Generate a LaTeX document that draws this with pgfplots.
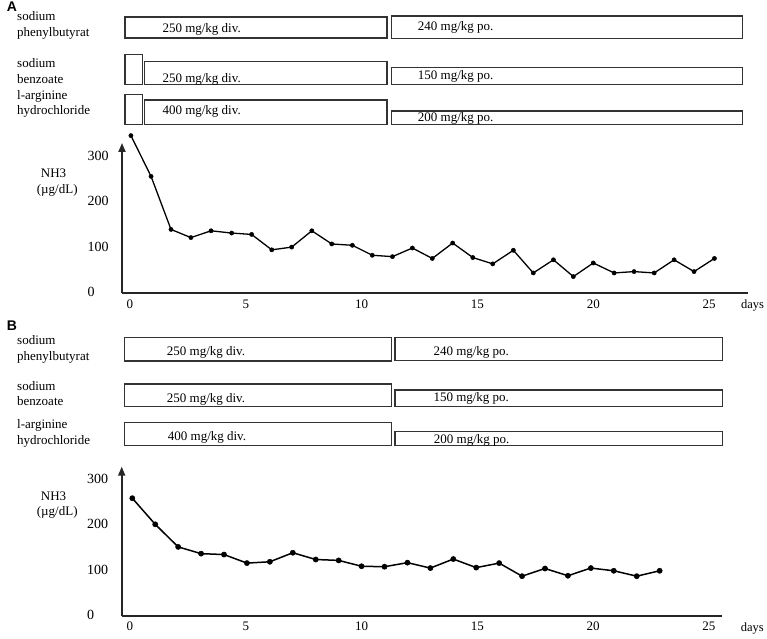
\documentclass[border=0pt]{standalone}
\usepackage{fontspec}
\setmainfont{Liberation Serif}
\newfontfamily\labfont{Liberation Sans}
\usepackage{pgfplots}
\pgfplotsset{compat=1.18}
\usetikzlibrary{arrows.meta}
\pgfplotsset{nh3/.style={
  scale only axis, axis lines=left,
  axis line style={line width=1.7bp, black!85},
  every outer x axis line/.append style={-},
  every outer y axis line/.append style={-{Triangle[length=9bp,width=7bp]}},
  xtick={0,5,10,15,20,25}, ytick={0,100,200,300},
  major tick length=0pt, tick style={draw=none},
  /pgf/number format/assume math mode=true,
  xticklabel style={font=\fontsize{13bp}{15bp}\selectfont, yshift=-3bp},
  yticklabel style={font=\fontsize{14bp}{16bp}\selectfont, anchor=west, xshift=-38bp},
  clip=false}}
\begin{document}
\begin{tikzpicture}[x=1bp,y=1bp,
  box/.style={draw=black!80, line width=1.2bp},
  lab/.style={anchor=base west, inner sep=0pt, font=\fontsize{13bp}{15bp}\selectfont},
  pan/.style={anchor=center, inner sep=0pt, font=\labfont\bfseries\fontsize{14bp}{16bp}\selectfont}]
\useasboundingbox (0,0) rectangle (767,639);

% ---------------- Panel A ----------------
\node[pan] at (12,639-7) {A};
\node[lab] at (17,639-20.7) {sodium};
\node[lab] at (17,639-36.8) {phenylbutyrat};
\node[lab] at (17,639-67.8) {sodium};
\node[lab] at (17,639-83.3) {benzoate};
\node[lab] at (17,639-99.5) {l-arginine};
\node[lab] at (17,639-115) {hydrochloride};

\draw[box] (125,639-17) rectangle (387,639-38);
\draw[box] (391.7,639-16) rectangle (742.7,639-38.3);
\draw[box] (125,639-54.3) rectangle (142.3,639-84.3);
\draw[box] (144.3,639-61.7) rectangle (387,639-84.3);
\draw[box] (391.7,639-67.7) rectangle (742.7,639-84.3);
\draw[box] (125,639-94.3) rectangle (142.3,639-124.3);
\draw[box] (144.3,639-100) rectangle (387,639-124.3);
\draw[box] (391.7,639-111) rectangle (742.7,639-124.3);

\node[lab] at (162.3,639-32.7) {250 mg/kg div.};
\node[lab] at (162.3,639-82.7) {250 mg/kg div.};
\node[lab] at (162.3,639-114.4) {400 mg/kg div.};
\node[lab] at (417.7,639-31) {240 mg/kg po.};
\node[lab] at (417.7,639-79.4) {150 mg/kg po.};
\node[lab] at (417.7,639-121.7) {200 mg/kg po.};

\node[lab] at (40.7,639-177.7) {NH3};
\node[lab] at (36.7,639-193.5) {(µg/dL)};
\node[anchor=center, inner sep=0pt, font=\fontsize{12.5bp}{14bp}\selectfont] at (752.5,639-305.7) {days};

\begin{axis}[nh3, at={(122bp,346bp)}, anchor=south west,
  width=626bp, height=150bp,
  xmin=-0.345, xmax=26.68, ymin=-2.2, ymax=328.7]
\addplot[black, line width=1.3bp, mark=*, mark size=2.1bp, mark options={line width=0.5bp}] coordinates {
(0.04,345)(0.91,255)(1.77,138)(2.63,120)(3.50,135)(4.39,130)(5.25,127)(6.12,93)(6.98,99)(7.85,135)(8.71,106)(9.60,103)(10.46,81)(11.33,78)(12.19,97)(13.05,74)(13.93,108)(14.80,76)(15.66,62)(16.55,92)(17.41,42)(18.28,71)(19.14,34)(20.00,64)(20.90,42)(21.76,45)(22.63,42)(23.49,71)(24.35,45)(25.23,74)};
\end{axis}

% ---------------- Panel B ----------------
\node[pan] at (12,639-326) {B};
\node[lab] at (17,639-345) {sodium};
\node[lab] at (17,639-361) {phenylbutyrat};
\node[lab] at (17,639-391) {sodium};
\node[lab] at (17,639-405.7) {benzoate};
\node[lab] at (17,639-429) {l-arginine};
\node[lab] at (17,639-444.3) {hydrochloride};

\draw[box] (124.3,639-337.7) rectangle (391.7,639-361);
\draw[box] (395,639-337.7) rectangle (722.3,639-360.7);
\draw[box] (124.3,639-384) rectangle (391.7,639-406.7);
\draw[box] (395,639-390) rectangle (722.3,639-406.7);
\draw[box] (124.3,639-422.5) rectangle (391.7,639-445.7);
\draw[box] (395,639-431.7) rectangle (722.3,639-445.5);

\node[lab] at (166.7,639-356) {250 mg/kg div.};
\node[lab] at (166.7,639-402.7) {250 mg/kg div.};
\node[lab] at (167.7,639-441) {400 mg/kg div.};
\node[lab] at (433.3,639-356) {240 mg/kg po.};
\node[lab] at (433.3,639-402) {150 mg/kg po.};
\node[lab] at (433.7,639-443.4) {200 mg/kg po.};

\node[lab] at (40.7,639-501) {NH3};
\node[lab] at (36.7,639-516) {(µg/dL)};
\node[anchor=center, inner sep=0pt, font=\fontsize{12.5bp}{14bp}\selectfont] at (752.3,639-628.3) {days};

\begin{axis}[nh3, at={(121.7bp,23.3bp)}, anchor=south west,
  width=600bp, height=149bp,
  xmin=-0.358, xmax=25.55, ymin=-2.66, ymax=327.9]
\addplot[black, line width=1.5bp, mark=*, mark size=2.6bp, mark options={line width=0.5bp}] coordinates {
(0.10,258)(1.09,200)(2.08,150)(3.07,135)(4.06,133)(5.05,114)(6.04,117)(7.03,137)(8.02,122)(9.01,120)(10.00,107)(10.99,106)(11.98,115)(12.97,103)(13.96,123)(14.95,104)(15.94,114)(16.93,85)(17.92,102)(18.91,86)(19.90,103)(20.89,97)(21.88,85)(22.87,97)};
\end{axis}
\end{tikzpicture}
\end{document}
